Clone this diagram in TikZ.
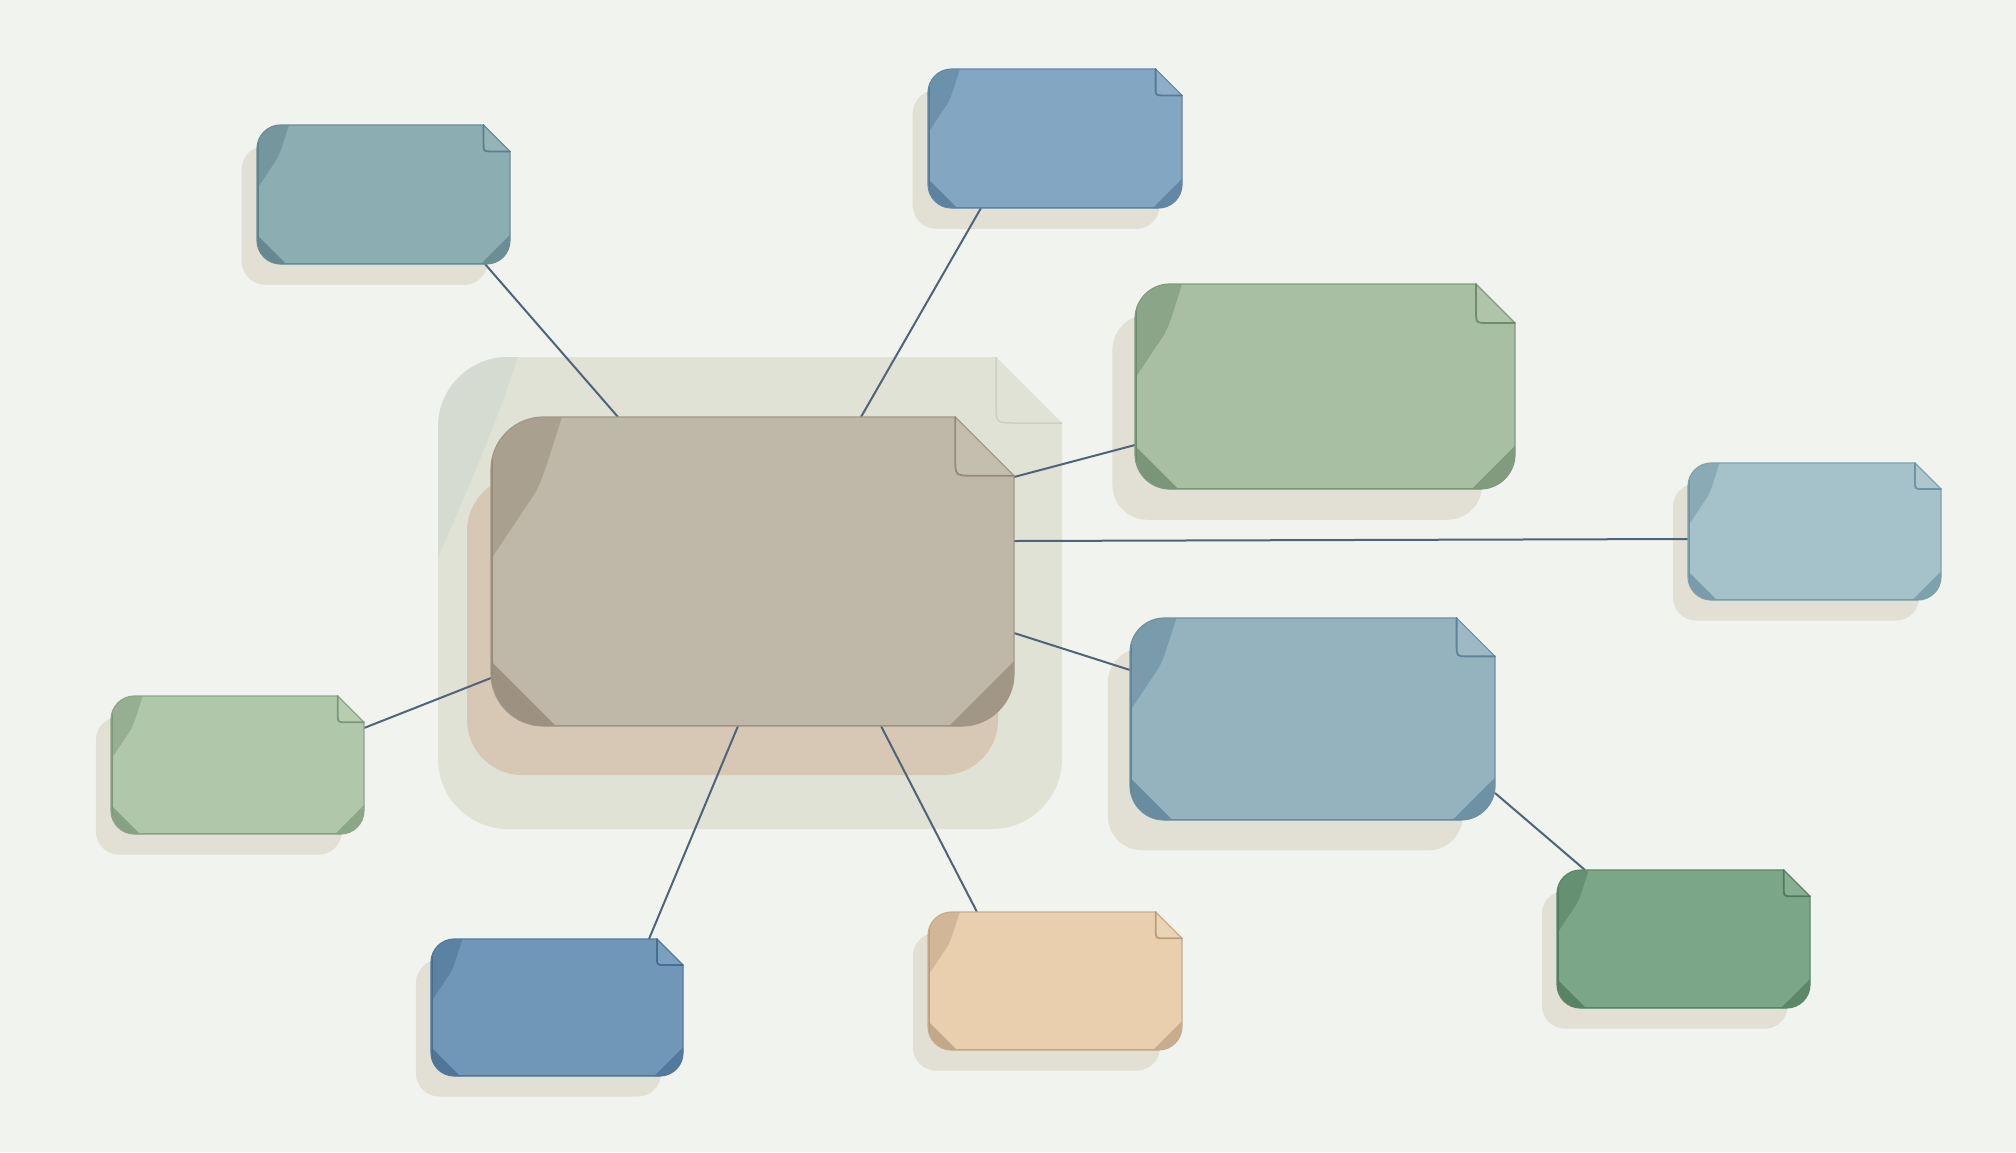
\documentclass[tikz,border=0pt]{standalone}
\usetikzlibrary{calc}
\pgfdeclarelayer{shadows}
\pgfdeclarelayer{lines}
\pgfsetlayers{shadows,lines,main}
\definecolor{bgc}{HTML}{F1F4EE}
\definecolor{shadowc}{HTML}{E2E0D4}
\definecolor{haloc}{HTML}{E0E2D5}
\definecolor{halod}{HTML}{CDD0C3}
\definecolor{halocurl}{HTML}{D6DBD2}
\definecolor{tanc}{HTML}{D6C8B5}
\definecolor{connc}{HTML}{4F6479}
\definecolor{cA}{HTML}{8CADB2}\definecolor{cAd}{HTML}{5D7F88}
\definecolor{cB}{HTML}{83A7C3}\definecolor{cBd}{HTML}{557A98}
\definecolor{cG}{HTML}{A8BFA3}\definecolor{cGd}{HTML}{6F8B6F}
\definecolor{cL}{HTML}{A5C2CA}\definecolor{cLd}{HTML}{6F93A2}
\definecolor{cM}{HTML}{94B3BE}\definecolor{cMd}{HTML}{5F8299}
\definecolor{cN}{HTML}{7BA788}\definecolor{cNd}{HTML}{4F7A5C}
\definecolor{cP}{HTML}{E9CFAE}\definecolor{cPd}{HTML}{B99D80}
\definecolor{cD}{HTML}{7097B8}\definecolor{cDd}{HTML}{476D8F}
\definecolor{cE}{HTML}{B0C8A9}\definecolor{cEd}{HTML}{7D977A}
\definecolor{cC}{HTML}{BFB8A8}\definecolor{cCd}{HTML}{958977}
\tikzset{conn/.style={connc, line width=2pt}}
\newcommand{\setpaper}[4]{%
 \pgfmathsetmacro{\PXa}{#1}\pgfmathsetmacro{\PYa}{#2}%
 \pgfmathsetmacro{\PXb}{#3}\pgfmathsetmacro{\PYb}{#4}%
 \pgfmathsetmacro{\PH}{#4-#2}\pgfmathsetmacro{\PR}{0.17*\PH}%
 \pgfmathsetmacro{\PC}{0.19*\PH}\pgfmathsetmacro{\PK}{0.448*\PR}}
\newcommand{\pshape}{(\PXa,{\PYa+\PR}) .. controls (\PXa,{\PYa+\PK}) and ({\PXa+\PK},\PYa) .. ({\PXa+\PR},\PYa) -- ({\PXb-\PC},\PYa) -- (\PXb,{\PYa+\PC}) -- (\PXb,{\PYb-\PR}) .. controls (\PXb,{\PYb-\PK}) and ({\PXb-\PK},\PYb) .. ({\PXb-\PR},\PYb) -- ({\PXa+\PR},\PYb) .. controls ({\PXa+\PK},\PYb) and (\PXa,{\PYb-\PK}) .. (\PXa,{\PYb-\PR}) -- cycle}
\newcommand{\curlpath}{({\PXa-4},{\PYa-4}) -- ({\PXa+0.23*\PH},{\PYa-4}) -- ({\PXa+0.23*\PH},\PYa) .. controls ({\PXa+0.19*\PH},{\PYa+0.12*\PH}) and ({\PXa+0.17*\PH},{\PYa+0.2*\PH}) .. ({\PXa+0.14*\PH},{\PYa+0.25*\PH}) -- (\PXa,{\PYa+0.46*\PH}) -- ({\PXa-4},{\PYa+0.46*\PH}) -- cycle}
\newcommand{\papershadow}{%
 \begin{pgfonlayer}{shadows}
 \fill[shadowc, rounded corners=\PR pt] ({\PXa-0.11*\PH},{\PYa+0.15*\PH}) rectangle ({\PXb-0.16*\PH},{\PYb+0.15*\PH});
 \end{pgfonlayer}}
\newcommand{\paperbody}[3]{%
 \pgfmathsetmacro{\PW}{\PXb-\PXa}%
 \node[inner sep=0pt,outer sep=0pt,minimum width=\PW pt,minimum height=\PH pt] (#1) at ({(\PXa+\PXb)/2},{(\PYa+\PYb)/2}) {};
 \fill[#2] \pshape;
 \begin{scope}
  \clip \pshape;
  \fill[#3!50!#2] \curlpath;
  \fill[#3!80!#2] (\PXa,{\PYb-0.21*\PH}) -- ({\PXa+0.21*\PH},\PYb) -- ({\PXa+0.21*\PH},{\PYb+4}) -- ({\PXa-4},{\PYb+4}) -- ({\PXa-4},{\PYb-0.21*\PH}) -- cycle;
  \fill[#3!70!#2] (\PXb,{\PYb-0.21*\PH}) -- ({\PXb-0.21*\PH},\PYb) -- ({\PXb-0.21*\PH},{\PYb+4}) -- ({\PXb+4},{\PYb+4}) -- ({\PXb+4},{\PYb-0.21*\PH}) -- cycle;
  \fill[#2!92!white] ({\PXb-\PC},\PYa) -- (\PXb,{\PYa+\PC}) -- ({\PXb-0.7*\PC},{\PYa+\PC}) .. controls ({\PXb-\PC},{\PYa+\PC}) .. ({\PXb-\PC},{\PYa+0.7*\PC}) -- cycle;
  \draw[#3, line width=3pt] (\PXa,\PYa) -- (\PXa,\PYb) -- (\PXb,\PYb);
 \end{scope}
 \draw[#3!70!#2, line width=1.2pt] \pshape;
 \draw[#3, line width=1.8pt, line cap=round] ({\PXb-\PC},\PYa) -- ({\PXb-\PC},{\PYa+0.7*\PC}) .. controls ({\PXb-\PC},{\PYa+\PC}) .. ({\PXb-0.7*\PC},{\PYa+\PC}) -- (\PXb,{\PYa+\PC});
}
\newcommand{\paper}[7]{\setpaper{#2}{#3}{#4}{#5}\papershadow\paperbody{#1}{#6}{#7}}
\begin{document}
\begin{tikzpicture}[x=1pt,y=-1pt]
\begin{pgfonlayer}{shadows}
\fill[bgc] (0,0) rectangle (2016,1152);
\setpaper{438}{357}{1062}{829}\def\PR{70}\def\PC{66}\def\PK{31.4}
\fill[haloc] \pshape;
\begin{scope}
\clip \pshape;
\fill[halocurl] ({\PXa-4},{\PYa-4}) -- ({\PXa+80},{\PYa-4}) -- ({\PXa+80},\PYa) .. controls ({\PXa+60},{\PYa+60}) and ({\PXa+40},{\PYa+110}) .. (\PXa,{\PYa+200}) -- ({\PXa-4},{\PYa+200}) -- cycle;
\end{scope}
\draw[halod, line width=1.5pt] ({\PXb-\PC},\PYa) -- ({\PXb-\PC},{\PYa+0.7*\PC}) .. controls ({\PXb-\PC},{\PYa+\PC}) .. ({\PXb-0.7*\PC},{\PYa+\PC}) -- (\PXb,{\PYa+\PC});
\fill[tanc, rounded corners=55pt] (467,476) rectangle (998,775);
\end{pgfonlayer}
\useasboundingbox (0,0) rectangle (2016,1152);
% boxes
\paper{n1}{257}{125}{510}{264}{cA}{cAd}
\paper{n2}{928}{69}{1182}{208}{cB}{cBd}
\paper{n3}{1135}{284}{1515}{489}{cG}{cGd}
\paper{n4}{1688}{463}{1941}{600}{cL}{cLd}
\paper{n5}{1130}{618}{1495}{820}{cM}{cMd}
\paper{n6}{1557}{870}{1810}{1008}{cN}{cNd}
\paper{n7}{928}{912}{1182}{1050}{cP}{cPd}
\paper{n8}{431}{939}{683}{1076}{cD}{cDd}
\paper{n9}{111}{696}{364}{834}{cE}{cEd}
\setpaper{491}{417}{1014}{726}
\paperbody{c}{cC}{cCd}
% connectors
\begin{pgfonlayer}{lines}
\draw[conn] ([xshift=-25pt]n1.south east) -- ([xshift=127pt]c.north west);
\draw[conn] ([xshift=53pt]n2.south west) -- ([xshift=370pt]c.north west);
\draw[conn] ([yshift=-161pt]n3.north west) -- ([yshift=-60pt]c.north east);
\draw[conn] ([yshift=-76pt]n4.north west) -- ([yshift=-124pt]c.north east);
\draw[conn] ([yshift=-52pt]n5.north west) -- ([yshift=-216pt]c.north east);
\draw[conn] ([yshift=27pt]n5.south east) -- ([xshift=28pt]n6.north west);
\draw[conn] ([xshift=49pt]n7.north west) -- ([xshift=390pt]c.south west);
\draw[conn] ([xshift=218pt]n8.north west) -- ([xshift=247pt]c.south west);
\draw[conn] ([yshift=-32pt]n9.north east) -- ([yshift=-261pt]c.north west);
\end{pgfonlayer}
\end{tikzpicture}
\end{document}
